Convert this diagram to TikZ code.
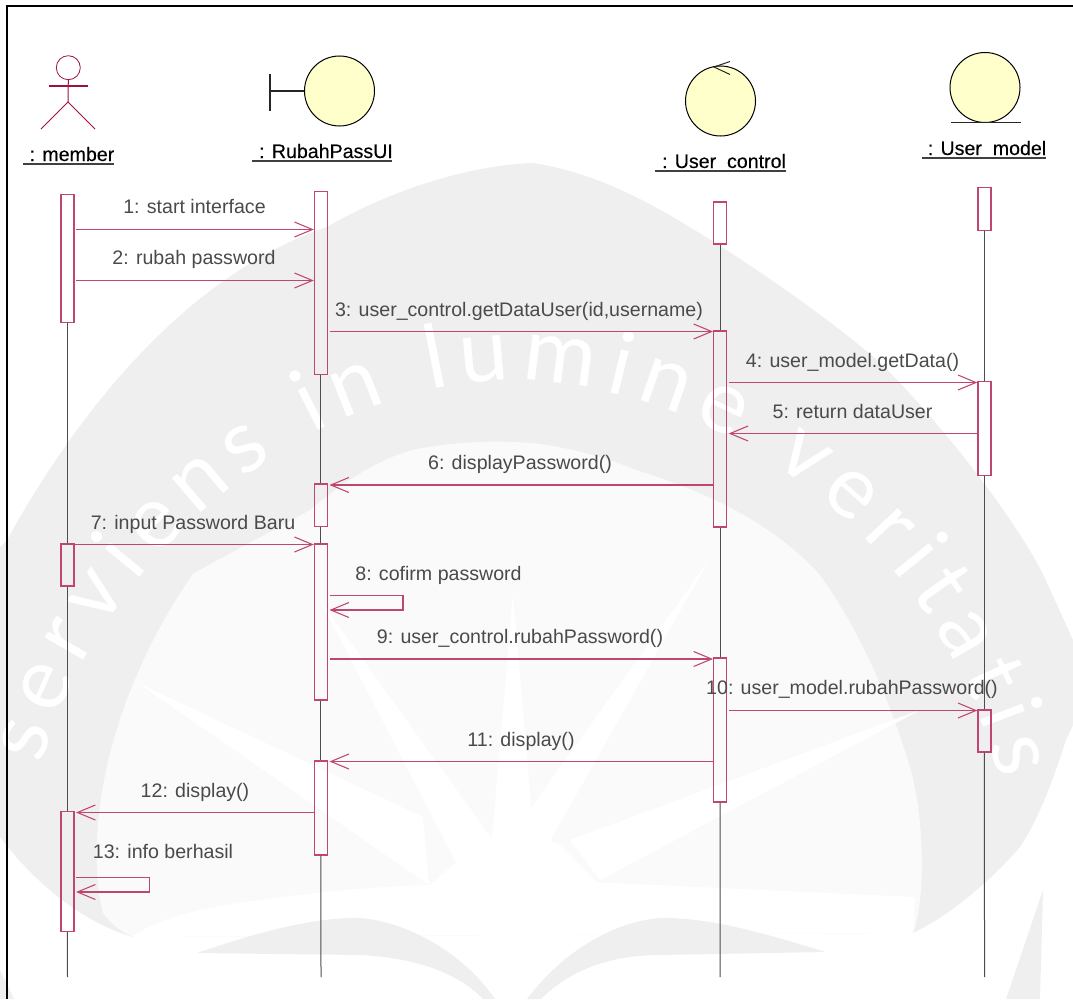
\documentclass[tikz,border=0pt]{standalone}
\usepackage{fontspec}
\setmainfont{Liberation Sans}
\newfontfamily\titlefont[FakeBold=0.25]{Liberation Sans}
\newfontfamily\wmfont{Lato}
\usetikzlibrary{arrows.meta,decorations.text}
\definecolor{wgray}{HTML}{EFEFEF}
\definecolor{wlight}{HTML}{FAFAFA}
\definecolor{rosered}{HTML}{BF4673}
\definecolor{actorred}{HTML}{A01045}
\definecolor{msgtext}{HTML}{4A4A4A}
\definecolor{lifegray}{HTML}{4D4D4D}
\definecolor{bodyyellow}{HTML}{FFFFCC}
\tikzset{
  msgtxt/.style={font=\fontsize{14.7}{16}\selectfont,text=msgtext,inner sep=0pt,anchor=base},
  titletxt/.style={font=\fontsize{14.7}{16}\selectfont\titlefont,text=black,inner sep=0pt,anchor=base},
  titleline/.style={draw=black!75,line width=0.9pt},
  lifeline/.style={draw=lifegray,line width=0.75pt},
  actbox/.style={draw=rosered,line width=0.9pt,minimum width=9.75pt,inner sep=0pt,anchor=north west,xshift=-0.5pt,yshift=0.5pt},
  msg/.style={draw=rosered,line width=0.8pt,-{Straight Barb[length=13.5pt,width=11.25pt,line width=0.8pt]}},
  msgout/.style={msg,shorten <=1.1pt},
  msgback/.style={msg,shorten >=1.1pt},
  body/.style={draw=black,line width=0.75pt,fill=bodyyellow,circle,minimum size=52.5pt,inner sep=0pt},
  glyph/.style={draw=black!85,line width=0.75pt},
  actorline/.style={draw=actorred,line width=0.75pt},
}
\begin{document}
\begin{tikzpicture}[x=0.75pt,y=-0.75pt]
\useasboundingbox (0,0) rectangle (1073,999);
% watermark: outer band
\fill[wgray] (0,547) -- (7,540) .. controls (90,390) and (200,270) .. (327,227)
  .. controls (390,190) and (470,165) .. (533,163)
  .. controls (610,175) and (670,215) .. (722,247)
  .. controls (780,285) and (830,320) .. (877,360)
  .. controls (930,410) and (1010,510) .. (1043,574)
  -- (1073,640) -- (1073,725) -- (1066,740)
  .. controls (1050,790) and (1035,825) .. (1020,847)
  .. controls (1000,870) and (960,910) .. (913,933)
  -- (133,937)
  .. controls (90,925) and (40,890) .. (0,837) -- cycle;
% watermark: inner area
\fill[wlight] (533,443) .. controls (490,440) and (450,442) .. (413,450)
  .. controls (375,460) and (340,485) .. (310,510)
  .. controls (275,530) and (235,550) .. (193,574)
  .. controls (140,650) and (105,740) .. (98,824)
  .. controls (95,860) and (97,890) .. (103,913)
  .. controls (112,925) and (122,932) .. (133,937)
  -- (913,933)
  .. controls (925,900) and (925,830) .. (912,774)
  .. controls (890,700) and (860,630) .. (819,574)
  .. controls (770,520) and (700,490) .. (636,470)
  .. controls (600,455) and (565,447) .. (533,443) -- cycle;
% watermark: white base and rays
\fill[white] (133,937) .. controls (160,915) and (220,905) .. (260,900)
  .. controls (330,890) and (400,885) .. (433,885) -- (590,882) -- (915,897) -- (913,933) -- cycle;
\fill[white] (513,593) -- (535,850) -- (491,850) -- cycle;
\fill[white] (320,600) -- (500,850) -- (460,870) -- cycle;
\fill[white] (709,560) -- (545,850) -- (515,830) -- cycle;
\fill[white] (920,710) -- (600,880) -- (570,840) -- cycle;
\fill[white] (138,683) -- (423,817) -- (429,885) -- cycle;
\fill[white] (470,850) -- (513,825) -- (560,845) -- (600,885) -- (430,885) -- cycle;
% watermark: leaves and slivers
\fill[wgray] (197,953) .. controls (250,935) and (310,917) .. (360,918)
  .. controls (410,922) and (465,955) .. (495,999) -- (483,999)
  .. controls (460,975) and (420,958) .. (360,955) -- cycle;
\fill[wgray] (826,952) .. controls (770,935) and (710,917) .. (660,918)
  .. controls (610,922) and (560,955) .. (527,999) -- (541,999)
  .. controls (570,970) and (610,955) .. (660,955) -- cycle;
\fill[wgray] (1043,890) -- (1006,999) -- (1040,999) -- cycle;
\fill[wgray] (0,970) -- (14,999) -- (0,999) -- cycle;
\path[decorate,decoration={text along path,text align={fit to path},
   text={|\fontsize{66}{66}\selectfont\wmfont\color{white}|serviens in lumine veritatis}}]
  (42,765) .. controls (85,590) and (280,385) .. (512,380)
  .. controls (725,385) and (940,540) .. (1000,780);
% frame
\draw[line width=1.5pt,black] (7,999) -- (7,6) -- (1073,6);
% activation boxes
\node[actbox,minimum height=96pt] (a1) at (61,194.5) {};
\node[actbox,minimum height=137pt] (b1) at (314.5,191.5) {};
\node[actbox,minimum height=31.5pt] (c1) at (713.7,202) {};
\node[actbox,minimum height=32pt] (d1) at (978,187.5) {};
\node[actbox,minimum height=147pt] (c2) at (713.7,331) {};
\node[actbox,minimum height=70.5pt] (d2) at (978,381.5) {};
\node[actbox,minimum height=32pt] (b2) at (314.5,484) {};
\node[actbox,minimum height=31.5pt] (a2) at (61,544) {};
\node[actbox,minimum height=117pt] (b3) at (314.5,544) {};
\node[actbox,minimum height=108pt] (c3) at (713.7,658) {};
\node[actbox,minimum height=31.5pt] (d3) at (978,710) {};
\node[actbox,minimum height=70.5pt] (b4) at (314.5,761) {};
\node[actbox,minimum height=90pt] (a3) at (61,811.5) {};
% lifelines
\coordinate (l1b) at (67.5,977);
\coordinate (l2b) at (321,977);
\coordinate (l3b) at (720.2,977);
\coordinate (l4b) at (984.5,977);
\draw[lifeline] (a1.south) -- (a2.north);
\draw[lifeline] (a2.south) -- (a3.north);
\draw[lifeline] (a3.south) -- (l1b);
\draw[lifeline] (b1.south) -- (b2.north);
\draw[lifeline] (b2.south) -- (b3.north);
\draw[lifeline] (b3.south) -- (b4.north);
\draw[lifeline] (b4.south) -- (l2b);
\draw[lifeline] (c1.south) -- (c2.north);
\draw[lifeline] (c2.south) -- (c3.north);
\draw[lifeline] (c3.south) -- (l3b);
\draw[lifeline] (d1.south) -- (d2.north);
\draw[lifeline] (d2.south) -- (d3.north);
\draw[lifeline] (d3.south) -- (l4b);
% messages
\draw[msgout] (a1.east |- 0,229.5) -- (b1.west |- 0,229.5);
\draw[msgout] (a1.east |- 0,280.5) -- (b1.west |- 0,280.5);
\draw[msgout] (b1.east |- 0,331.5) -- (c2.west |- 0,331.5);
\draw[msgout] (c2.east |- 0,382.5) -- (d2.west |- 0,382.5);
\draw[msgback] (d2.west |- 0,433.5) -- (c2.east |- 0,433.5);
\draw[msgback] (c2.west |- 0,485) -- (b2.east |- 0,485);
\draw[msg] (a2.north |- 0,544.5) -- (b3.west |- 0,544.5);
\coordinate (m8c) at (403,595.5); \coordinate (m8d) at (403,610);
\draw[msgout,shorten >=1.1pt] (b3.east |- m8c) -- (m8c) -- (m8d) -- (b3.east |- m8d);
\draw[msgout] (b3.east |- 0,659) -- (c3.west |- 0,659);
\draw[msgout] (c3.east |- 0,710.5) -- (d3.west |- 0,710.5);
\draw[msgback] (c3.west |- 0,761.5) -- (b4.east |- 0,761.5);
\draw[msgback] (b4.west |- 0,812.5) -- (a3.east |- 0,812.5);
\coordinate (m13c) at (149.5,877.5); \coordinate (m13d) at (149.5,892);
\draw[msgout,shorten >=1.1pt] (a3.east |- m13c) -- (m13c) -- (m13d) -- (a3.east |- m13d);
% message labels
\node[msgtxt] (t1) at (194.5,213) {1:  start interface};
\node[msgtxt] (t2) at (194,264) {2:  rubah password};
\node[msgtxt] (t3) at (519,316) {3:  user\_control.getDataUser(id,username)};
\node[msgtxt] (t4) at (852.5,367) {4:  user\_model.getData()};
\node[msgtxt] (t5) at (852.5,418) {5:  return dataUser};
\node[msgtxt] (t6) at (520,469) {6:  displayPassword()};
\node[msgtxt] (t7) at (193,529) {7:  input Password Baru};
\node[msgtxt] (t8) at (438.5,580) {8:  cofirm password};
\node[msgtxt] (t9) at (520,643) {9:  user\_control.rubahPassword()};
\node[msgtxt] (t10) at (852,694) {10:  user\_model.rubahPassword()};
\node[msgtxt] (t11) at (521,746) {11:  display()};
\node[msgtxt] (t12) at (195,797) {12:  display()};
\node[msgtxt] (t13) at (163,858) {13:  info berhasil};
% actor
\node[draw=actorred,line width=0.6pt,fill=white,circle,minimum size=18pt,inner sep=0pt] (head) at (68.3,67.7) {};
\coordinate (ac2) at (68,102);
\coordinate (ach1) at (48.5,86); \coordinate (ach2) at (87.5,86);
\coordinate (acl) at (41,129); \coordinate (acr) at (95,129);
\draw[actorline] (head.south) -- (ac2);
\draw[actorline,line width=1pt] (ach1) -- (ach2);
\draw[actorline] (acl) -- (ac2) -- (acr);
% boundary
\node[body] (bd) at (339.5,91) {};
\coordinate (bl1) at (270,74); \coordinate (bl2) at (270,111); \coordinate (blm) at (270,91);
\draw[glyph,line width=1pt] (bl1) -- (bl2);
\draw[glyph,line width=1pt] (blm) -- (bd.west);
% control
\node[body] (cn) at (720.5,101) {};
\coordinate (ca) at (714,67); \coordinate (ca1) at (730,61.5); \coordinate (ca2) at (730,74.5);
\draw[glyph] (ca1) -- (ca) -- (ca2);
% entity
\node[body] (en) at (985,87.5) {};
\coordinate (el) at (951,122.5); \coordinate (er) at (1021,122.5);
\draw[glyph] (el) -- (er);
% titles
\node[titletxt] (n1) at (72,161) {:  member};
\node[titletxt] (n2) at (326,158) {:  RubahPassUI};
\node[titletxt] (n3) at (724,168) {:  User\_control};
\node[titletxt] (n4) at (987,155) {:  User\_model};
\coordinate (u1a) at (23,164); \coordinate (u1b) at (114,164);
\coordinate (u2a) at (252,161); \coordinate (u2b) at (391.5,161);
\coordinate (u3a) at (655,171); \coordinate (u3b) at (785.5,171);
\coordinate (u4a) at (922,158); \coordinate (u4b) at (1046,158);
\draw[titleline] (u1a) -- (u1b);
\draw[titleline] (u2a) -- (u2b);
\draw[titleline] (u3a) -- (u3b);
\draw[titleline] (u4a) -- (u4b);
\end{tikzpicture}
\end{document}
